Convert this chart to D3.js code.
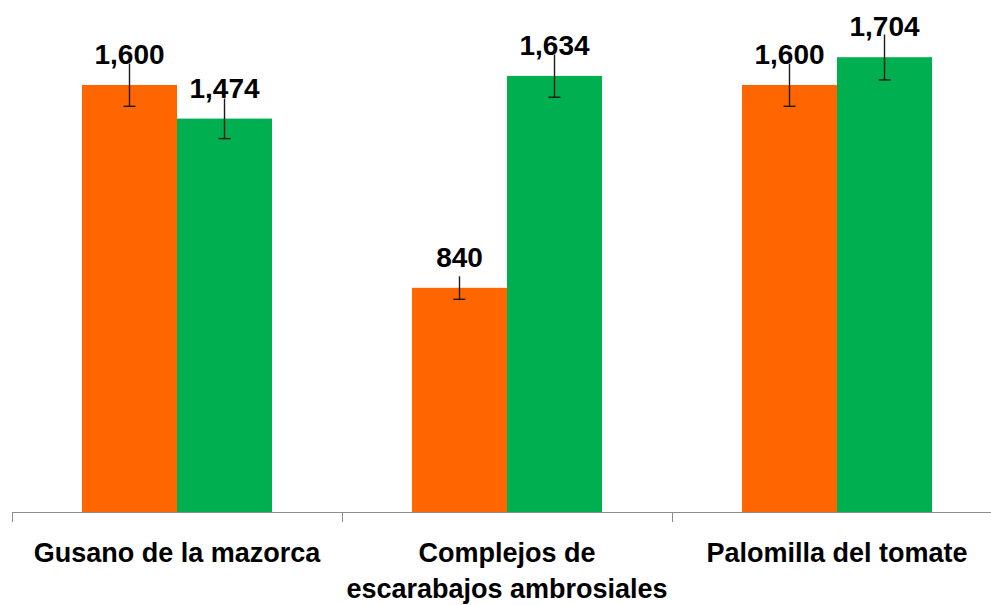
<!DOCTYPE html>
<html>
<head>
<meta charset="utf-8">
<script src="https://cdn.jsdelivr.net/npm/d3@7"></script>
<style>
  html, body { margin: 0; padding: 0; background: #fff; }
  svg { display: block; }
  text { font-family: "Liberation Sans", Arial, sans-serif; font-weight: bold; fill: #000; }
</style>
</head>
<body>
<svg id="chart" width="991" height="605"></svg>
<script>
// Data
const categories = ["Gusano de la mazorca", "Complejos de|escarabajos ambrosiales", "Palomilla del tomate"];
const seriesNames = ["Serie A", "Serie B"];
const seriesA = [1600, 840, 1600];
const seriesB = [1474, 1634, 1704];
const errorsA = [80, 43, 80];
const errorsB = [75, 80, 85];
const colors = ["#FF6600", "#00B050"];

const values = [seriesA, seriesB];
const errors = [errorsA, errorsB];

const svg = d3.select("#chart");
const baseY = 512;
const left = 12, right = 1002;

const x0 = d3.scaleBand().domain(categories).range([left, right]).paddingInner(0).paddingOuter(0);
const x1 = d3.scaleBand().domain(seriesNames).range([0, x0.bandwidth()]).paddingInner(0).paddingOuter(0.7368);
const y = d3.scaleLinear().domain([0, 1800]).range([baseY, baseY - 1800 * 0.2669]);

const data = [];
categories.forEach((c, i) => {
  seriesNames.forEach((s, j) => {
    data.push({cat: c, ser: s, v: values[j][i], e: errors[j][i], color: colors[j]});
  });
});

// Bars
svg.append("g").selectAll("rect").data(data).join("rect")
  .attr("x", d => x0(d.cat) + x1(d.ser))
  .attr("y", d => y(d.v))
  .attr("width", x1.bandwidth())
  .attr("height", d => baseY - y(d.v))
  .attr("fill", d => d.color);

// Error bars
const eg = svg.append("g").attr("stroke", "#1a1a1a").attr("stroke-width", 1.4);
data.forEach(d => {
  const cx = x0(d.cat) + x1(d.ser) + x1.bandwidth() / 2;
  eg.append("line").attr("x1", cx).attr("x2", cx).attr("y1", y(d.v + d.e)).attr("y2", y(d.v - d.e));
  eg.append("line").attr("x1", cx - 6).attr("x2", cx + 6).attr("y1", y(d.v - d.e)).attr("y2", y(d.v - d.e));
});

// Value labels
const fmt = d3.format(",");
svg.append("g").selectAll("text").data(data).join("text")
  .attr("x", d => x0(d.cat) + x1(d.ser) + x1.bandwidth() / 2)
  .attr("y", d => y(d.v) - 21)
  .attr("text-anchor", "middle")
  .attr("font-size", 28)
  .text(d => fmt(d.v));

// Axis
const ax = svg.append("g").attr("stroke", "#8c8c8c").attr("stroke-width", 1);
ax.append("line").attr("x1", left).attr("x2", right).attr("y1", baseY + 0.5).attr("y2", baseY + 0.5);
const tickXs = categories.map(c => x0(c)).concat([x0(categories[categories.length - 1]) + x0.bandwidth()]);
tickXs.forEach(tx => {
  ax.append("line").attr("x1", Math.round(tx) + 0.5).attr("x2", Math.round(tx) + 0.5)
    .attr("y1", baseY).attr("y2", baseY + 10);
});

// Category labels
const lg = svg.append("g");
categories.forEach(c => {
  const lines = c.split("|");
  const t = lg.append("text")
    .attr("x", x0(c) + x0.bandwidth() / 2)
    .attr("y", 562)
    .attr("text-anchor", "middle")
    .attr("font-size", 27);
  lines.forEach((ln, k) => {
    t.append("tspan").attr("x", x0(c) + x0.bandwidth() / 2).attr("dy", k === 0 ? 0 : 36).text(ln);
  });
});
</script>
</body>
</html>
